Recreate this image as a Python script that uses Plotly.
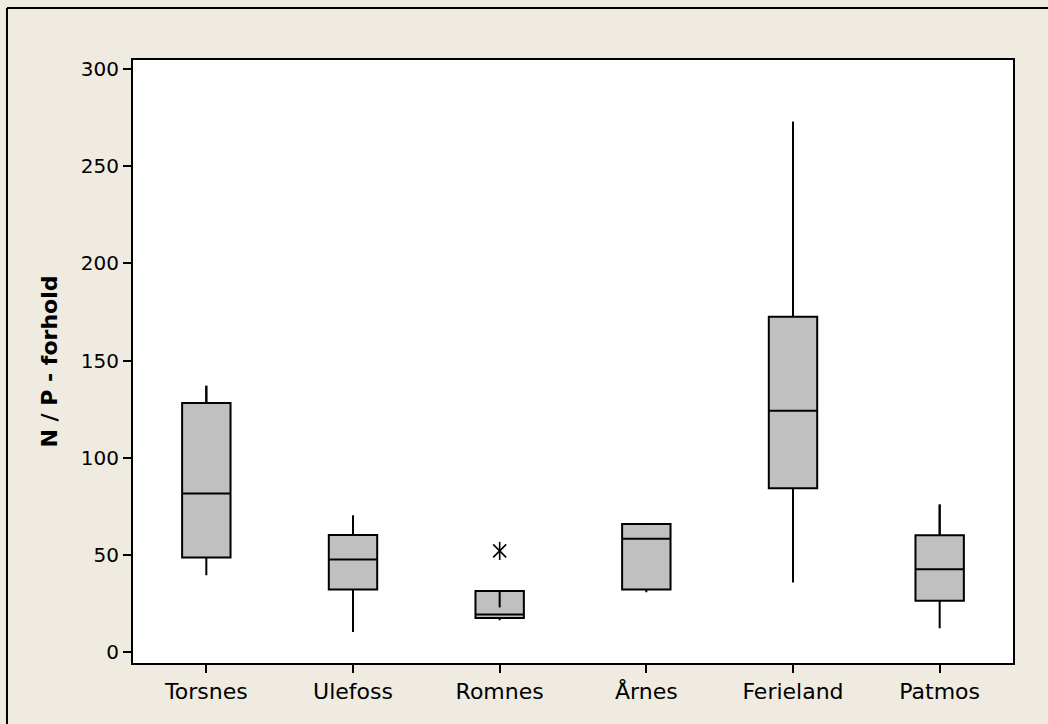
import plotly.graph_objects as go

# N/P ratio per sampling site (box statistics)
sites = ["Torsnes", "Ulefoss", "Romnes", "Årnes", "Ferieland", "Patmos"]
lower_whisker = [39.5, 10.3, 16.3, 30.7, 35.7, 12.2]
q1_values = [48.6, 32.1, 17.5, 32.1, 84.3, 26.3]
medians = [81.6, 47.6, 19.3, 58.2, 124.1, 42.6]
q3_values = [128.2, 60.2, 31.3, 65.8, 172.5, 60.1]
upper_whisker = [137.0, 70.2, 22.9, 66.4, 272.9, 75.9]

# Outliers
outlier_sites = ["Romnes"]
outlier_values = [52.0]

y_ticks = [0, 50, 100, 150, 200, 250, 300]

FONT = "DejaVu Sans"
BG = "#EFEBE1"

fig = go.Figure()

fig.add_trace(go.Box(
    x=sites,
    q1=q1_values,
    median=medians,
    q3=q3_values,
    lowerfence=lower_whisker,
    upperfence=upper_whisker,
    width=0.33,
    whiskerwidth=0,
    boxpoints=False,
    fillcolor="#C0C0C0",
    line=dict(color="black", width=2),
    showlegend=False,
    hoverinfo="skip",
))

# Upper whisker segments from Q3 to the whisker end (also covers the case
# where the largest non-outlier value lies below Q3)
wx, wy = [], []
for s, q3, uw in zip(sites, q3_values, upper_whisker):
    wx += [s, s, None]
    wy += [q3, uw, None]
fig.add_trace(go.Scatter(
    x=wx, y=wy, mode="lines",
    line=dict(color="black", width=2),
    showlegend=False, hoverinfo="skip",
))

# Outlier asterisk built from an X and a vertical stroke
for sym in ["x-thin-open", "line-ns-open"]:
    fig.add_trace(go.Scatter(
        x=outlier_sites,
        y=outlier_values,
        mode="markers",
        marker=dict(symbol=sym, size=13, color="black",
                    line=dict(color="black", width=1.6)),
        showlegend=False,
        hoverinfo="skip",
    ))

# Outer frame (top and left edges)
fig.add_shape(type="line", xref="paper", yref="paper",
              x0=-0.1432, x1=1.2, y0=1.0863, y1=1.0863,
              line=dict(color="black", width=2))
fig.add_shape(type="line", xref="paper", yref="paper",
              x0=-0.1432, x1=-0.1432, y0=-0.2, y1=1.0863,
              line=dict(color="black", width=2))

fig.update_layout(
    width=1048,
    height=724,
    margin=dict(l=133, r=35, t=60, b=61),
    paper_bgcolor=BG,
    plot_bgcolor="white",
    font=dict(family=FONT, size=19, color="black"),
    boxmode="overlay",
)

fig.update_xaxes(
    type="category",
    categoryorder="array",
    categoryarray=sites,
    range=[-0.5, 5.5],
    showline=True, linecolor="black", linewidth=2, mirror=True,
    ticks="outside", ticklen=8, tickwidth=2, tickcolor="black",
    showgrid=False, zeroline=False,
    tickfont=dict(family=FONT, size=22),
)

fig.update_yaxes(
    range=[-5.7, 304.7],
    tickvals=y_ticks,
    showline=True, linecolor="black", linewidth=2, mirror=True,
    ticks="outside", ticklen=8, tickwidth=2, tickcolor="black",
    showgrid=False, zeroline=False,
    tickfont=dict(family=FONT, size=20),
    title=dict(text="N / P - forhold",
               font=dict(family=FONT, size=22, weight="bold"),
               standoff=17),
)

fig.write_html("out.html")
